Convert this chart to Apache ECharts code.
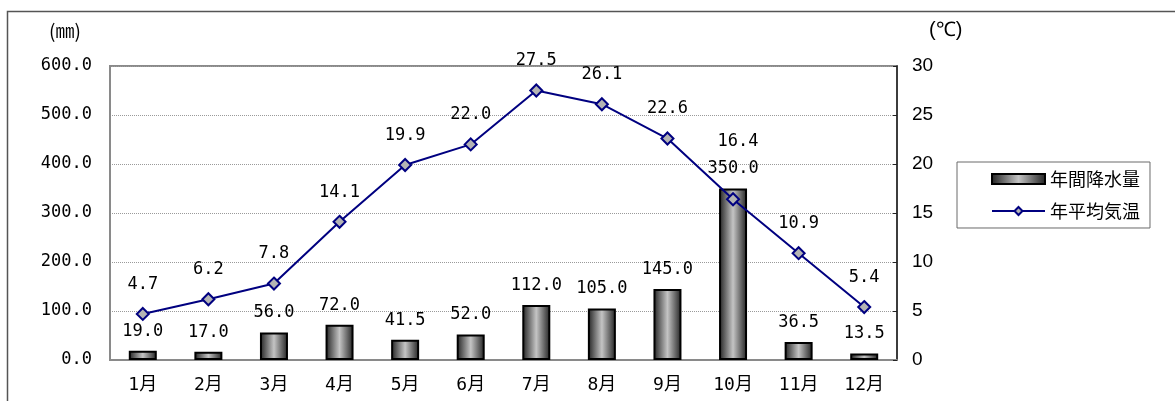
<!DOCTYPE html>
<html>
<head>
<meta charset="utf-8">
<script src="https://cdn.jsdelivr.net/npm/echarts@6/dist/echarts.min.js"></script>
<style>
  html, body { margin: 0; padding: 0; background: #fff; }
  #chart { width: 1175px; height: 401px; }
</style>
</head>
<body>
<div id="chart"></div>
<script>
// Monthly precipitation (mm) and mean temperature (°C)
const months = ['1月', '2月', '3月', '4月', '5月', '6月', '7月', '8月', '9月', '10月', '11月', '12月'];
const precipitation = [19.0, 17.0, 56.0, 72.0, 41.5, 52.0, 112.0, 105.0, 145.0, 350.0, 36.5, 13.5];
const temperature = [4.7, 6.2, 7.8, 14.1, 19.9, 22.0, 27.5, 26.1, 22.6, 16.4, 10.9, 5.4];
const precipName = '年間降水量';
const tempName = '年平均気温';
const precipUnit = '(㎜)';
const tempUnit = '(℃)';

const monoFont = '"DejaVu Sans Mono", "Noto Sans CJK JP", monospace';
const gothicFont = '"Noto Sans CJK JP", sans-serif';
const sansFont = '"Liberation Sans", Arial, sans-serif';

const chart = echarts.init(document.getElementById('chart'), null, { renderer: 'canvas' });

const barFill = new echarts.graphic.LinearGradient(0, 0, 1, 0, [
  { offset: 0, color: '#202020' },
  { offset: 0.5, color: '#c4c4c4' },
  { offset: 1, color: '#202020' }
]);

chart.setOption({
  animation: false,
  backgroundColor: '#ffffff',
  graphic: [
    {
      type: 'rect',
      shape: { x: 7.5, y: 11.5, width: 1200, height: 420 },
      style: { fill: 'none', stroke: '#555555', lineWidth: 1.5 },
      silent: true, z: -10
    },
    {
      type: 'text', left: 49, top: 21,
      style: { text: precipUnit, font: '19px ' + gothicFont, fill: '#000' }
    },
    {
      type: 'text', left: 929, top: 20,
      style: { text: tempUnit, font: '20px ' + sansFont, fill: '#000' }
    }
  ],
  grid: {
    left: 110, right: 278, top: 66, bottom: 41,
    show: true, borderColor: '#8a8a8a', borderWidth: 2, backgroundColor: 'transparent'
  },
  legend: {
    orient: 'vertical',
    left: 957, top: 162,
    width: 216,
    padding: [8, 10, 8, 34],
    itemGap: 14,
    itemWidth: 53,
    itemHeight: 10,
    borderColor: '#6a6a6a',
    borderWidth: 1,
    textStyle: { fontFamily: gothicFont, fontSize: 18, color: '#000' },
    data: [
      { name: precipName, icon: 'rect' },
      { name: tempName }
    ]
  },
  xAxis: {
    type: 'category',
    data: months,
    axisLine: { lineStyle: { color: '#8a8a8a', width: 2 } },
    axisTick: { show: false },
    axisLabel: { fontFamily: monoFont, fontSize: 18, color: '#000', margin: 16 }
  },
  yAxis: [
    {
      type: 'value',
      min: 0, max: 600, interval: 100,
      axisLine: { show: true, lineStyle: { color: '#8a8a8a', width: 2 } },
      axisTick: { show: false },
      splitLine: { lineStyle: { color: '#9a9a9a', type: 'dotted', width: 1 } },
      axisLabel: {
        fontFamily: monoFont, fontSize: 17, color: '#000', margin: 18,
        formatter: v => v.toFixed(1)
      }
    },
    {
      type: 'value',
      min: 0, max: 30, interval: 5,
      position: 'right',
      axisLine: { show: true, lineStyle: { color: '#222222', width: 1.5 } },
      axisTick: { show: true, inside: true, length: 4, lineStyle: { color: '#222' } },
      splitLine: { show: false },
      axisLabel: { fontFamily: sansFont, fontSize: 19, color: '#000', margin: 15 }
    }
  ],
  series: [
    {
      name: precipName,
      type: 'bar',
      data: precipitation,
      barWidth: 28,
      itemStyle: { color: barFill, borderColor: '#000', borderWidth: 2 },
      label: {
        show: true, position: 'top', distance: 11,
        fontFamily: monoFont, fontSize: 17, color: '#000',
        formatter: p => p.value.toFixed(1)
      },
      z: 2
    },
    {
      name: tempName,
      type: 'line',
      yAxisIndex: 1,
      data: temperature,
      symbol: 'diamond',
      symbolSize: 12,
      lineStyle: { color: '#000080', width: 2 },
      itemStyle: { color: '#b4b4b4', borderColor: '#000080', borderWidth: 2 },
      label: {
        show: true, position: 'top', distance: 14,
        fontFamily: monoFont, fontSize: 17, color: '#000',
        formatter: p => p.value.toFixed(1)
      },
      // October's label is lifted clear of the tall bar's label
      labelLayout: p => (p.dataIndex === 9 ? { dx: 5, dy: -28, hideOverlap: false } : { hideOverlap: false }),
      z: 3
    }
  ]
});
</script>
</body>
</html>
